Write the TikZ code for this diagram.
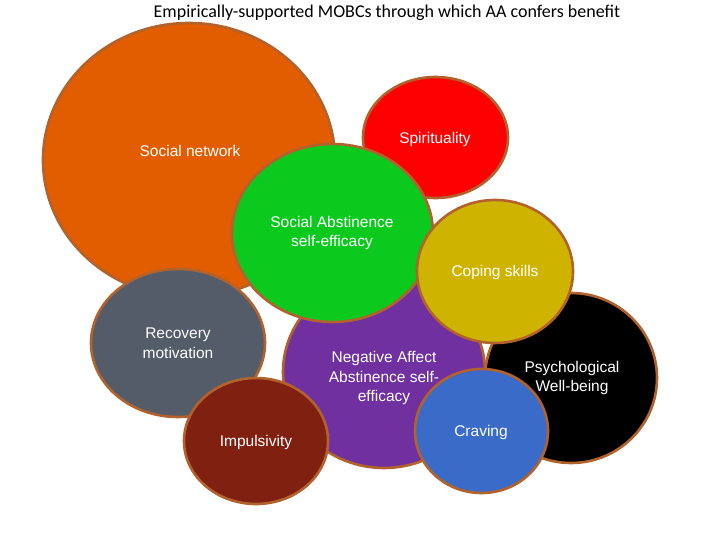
\documentclass[tikz,border=0pt]{standalone}
\usepackage{fontspec}
\setmainfont{Liberation Sans}
\newfontfamily\titlefont{Carlito}
\usetikzlibrary{shapes.geometric}
\definecolor{rim}{RGB}{178,98,45}
\definecolor{netorange}{RGB}{226,92,0}
\definecolor{spired}{RGB}{255,0,0}
\definecolor{sasegreen}{RGB}{12,201,30}
\definecolor{copeyellow}{RGB}{206,180,0}
\definecolor{motivgray}{RGB}{84,92,105}
\definecolor{nasepurple}{RGB}{112,48,160}
\definecolor{impulsbrown}{RGB}{127,32,16}
\definecolor{craveblue}{RGB}{58,107,200}
\begin{document}
\begin{tikzpicture}[x=1pt,y=-1pt]
	\tikzstyle{bubble}=[ellipse,draw=rim,line width=2.6pt,inner sep=0pt]
	\tikzstyle{label}=[text=white,align=center,inner sep=0pt,font=\fontsize{15.5}{19.5}\selectfont]
	\useasboundingbox[fill=white](0,0) rectangle (720,540);
	\node[font=\titlefont\fontsize{18}{21}\selectfont](title)at(387,13){Empirically-supported MOBCs through which AA confers benefit};
	\draw 
	node[bubble,fill=netorange,minimum width=292,minimum height=274](net)at(189,160){}
	node[bubble,fill=spired,minimum width=145,minimum height=121](spi)at(435.5,137.5){}
	node[bubble,fill=motivgray,minimum width=174,minimum height=148](mot)at(178,343){}
	node[bubble,fill=nasepurple,minimum width=202,minimum height=192](nase)at(384,372){}
	node[bubble,fill=sasegreen,minimum width=201,minimum height=178](sase)at(332.5,233){}
	node[bubble,fill=black,minimum width=172,minimum height=170](well)at(571,378){}
	node[bubble,fill=copeyellow,minimum width=156,minimum height=143](cope)at(495,271.5){}
	node[bubble,fill=impulsbrown,minimum width=144,minimum height=126](imp)at(256,441){}
	node[bubble,fill=craveblue,minimum width=133,minimum height=124](crave)at(481.5,431){};
	
	\node[label](netT)at(190,151){Social network};
	\node[label](spiT)at(435,139){Spirituality};
	\node[label](saseT)at(332,233){Social Abstinence\\self-efficacy};
	\node[label](copeT)at(495,272){Coping skills};
	\node[label](motT)at(178,343){Recovery\\motivation};
	\node[label](naseT)at(384,378){Negative Affect\\Abstinence self-\\efficacy};
	\node[label](wellT)at(572,378){Psychological\\Well-being};
	\node[label](impT)at(256,442){Impulsivity};
	\node[label](craveT)at(481,432){Craving};
\end{tikzpicture}
\end{document}
